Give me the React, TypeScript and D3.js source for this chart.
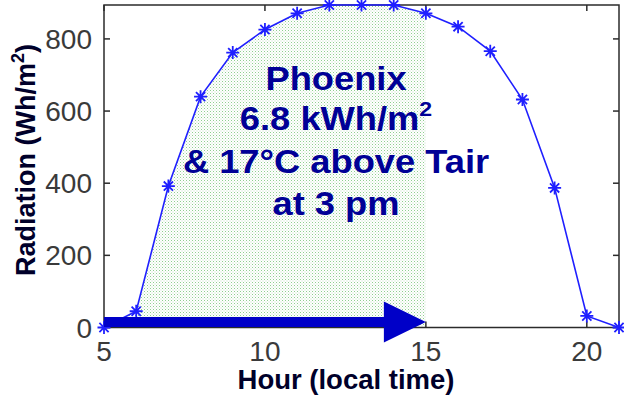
import React from "react";
import * as d3 from "d3";

// Hourly solar radiation on a clear day, Phoenix (Wh/m²)
const hours = [5, 6, 7, 8, 9, 10, 11, 12, 13, 14, 15, 16, 17, 18, 19, 20, 21];
const radiation = [0, 45, 392, 640, 762, 826, 871, 894, 894, 894, 871, 834, 766, 632, 387, 32, 0];

const xTicks = [5, 10, 15, 20];
const yTicks = [0, 200, 400, 600, 800];
const xDomain = [5, 21];
const yDomain = [0, 894];

// Shaded part of the day and the arrow that spans it
const shadeEndHour = 15;
const arrowFrom = [5, 15];
const arrowLevel = 15;

const noteLines = ["Phoenix", "6.8 kWh/m", "& 17°C above Tair", "at 3 pm"];

const W = 624;
const H = 398;
const left = 104;
const right = 619;
const top = 5;
const bottom = 327.5;

export default function App() {
  const x = d3.scaleLinear().domain(xDomain).range([left, right]);
  const y = d3.scaleLinear().domain(yDomain).range([bottom, top]);

  const pts = hours.map((h, i) => ({ h, v: radiation[i] }));
  const line = d3
    .line<{ h: number; v: number }>()
    .x((d) => x(d.h))
    .y((d) => y(d.v));
  const area = d3
    .area<{ h: number; v: number }>()
    .x((d) => x(d.h))
    .y0(y(0))
    .y1((d) => y(d.v));
  const shaded = pts.filter((d) => d.h <= shadeEndHour);

  const star = (cx: number, cy: number) => {
    const r = 6.5;
    const q = 4.6;
    return `M${cx - r},${cy}H${cx + r}M${cx},${cy - r}V${cy + r}M${cx - q},${cy - q}L${cx + q},${cy + q}M${cx - q},${cy + q}L${cx + q},${cy - q}`;
  };

  const ax0 = x(arrowFrom[0]);
  const ax1 = x(arrowFrom[1]);
  const ay = y(arrowLevel);
  const headLen = 42;
  const headHalf = 20.5;
  const barHalf = 5;

  const font = "'Liberation Sans', Arial, Helvetica, sans-serif";
  const noteColor = "#000096";
  const noteCx = 336;
  const noteBase = [90, 130, 173, 215];

  return (
    <svg
      width={W}
      height={H}
      style={{ position: "absolute", left: 0, top: 0, background: "#fff" }}
      fontFamily={font}
    >
      <defs>
        <pattern id="dots" width="3" height="3" patternUnits="userSpaceOnUse">
          <rect width="3" height="3" fill="#ffffff" />
          <rect x="0" y="0" width="1" height="1" fill="#8fce8f" />
          <rect x="1.5" y="1.5" width="1" height="1" fill="#bfe2bf" />
        </pattern>
      </defs>

      {/* shaded area under the curve up to 3 pm */}
      <path d={area(shaded) ?? ""} fill="url(#dots)" stroke="none" />

      {/* axes box */}
      <rect
        x={left}
        y={top}
        width={right - left}
        height={bottom - top}
        fill="none"
        stroke="#2b2b2b"
        strokeWidth={1.5}
      />
      {yTicks.map((t) => (
        <g key={"y" + t}>
          <line x1={left} x2={left + 6} y1={y(t)} y2={y(t)} stroke="#2b2b2b" strokeWidth={1.5} />
          <line x1={right} x2={right - 6} y1={y(t)} y2={y(t)} stroke="#2b2b2b" strokeWidth={1.5} />
          <text
            x={left - 12}
            y={y(t) + 10}
            textAnchor="end"
            fontSize={28}
            fill="#3a3a3a"
          >
            {t}
          </text>
        </g>
      ))}
      {xTicks.map((t) => (
        <g key={"x" + t}>
          <line x1={x(t)} x2={x(t)} y1={bottom} y2={bottom - 6} stroke="#2b2b2b" strokeWidth={1.5} />
          <line x1={x(t)} x2={x(t)} y1={top} y2={top + 6} stroke="#2b2b2b" strokeWidth={1.5} />
          <text x={x(t)} y={361} textAnchor="middle" fontSize={28} fill="#3a3a3a">
            {t}
          </text>
        </g>
      ))}

      {/* radiation curve */}
      <path d={line(pts) ?? ""} fill="none" stroke="#1f1fff" strokeWidth={1.6} />
      {pts.map((d) => (
        <path key={d.h} d={star(x(d.h), y(d.v))} stroke="#1f1fff" strokeWidth={1.8} fill="none" />
      ))}

      {/* arrow from sunrise to 3 pm */}
      <path
        d={`M${ax0},${ay - barHalf}H${ax1 - headLen}V${ay - headHalf}L${ax1},${ay}L${ax1 - headLen},${ay + headHalf}V${ay + barHalf}H${ax0}Z`}
        fill="#0000c8"
      />

      {/* annotation */}
      <g fontWeight="bold" fontSize={33} fill={noteColor} textAnchor="middle">
        {noteLines.map((s, i) => (
          <text
            key={i}
            transform={`translate(${noteCx},${noteBase[i]}) scale(1.1,1)`}
          >
            {s}
            {i === 1 ? (
              <tspan fontSize={21} dy={-14}>
                2
              </tspan>
            ) : null}
          </text>
        ))}
      </g>

      {/* axis labels */}
      <text
        x={346}
        y={389}
        textAnchor="middle"
        fontWeight="bold"
        fontSize={27.5}
        fill="#00002a"
      >
        Hour (local time)
      </text>
      <text
        transform="translate(35,160) rotate(-90)"
        textAnchor="middle"
        fontWeight="bold"
        fontSize={27}
        fill="#00002a"
      >
        Radiation (Wh/m
        <tspan fontSize={18} dy={-11}>
          2
        </tspan>
        <tspan dy={11}>)</tspan>
      </text>
    </svg>
  );
}
